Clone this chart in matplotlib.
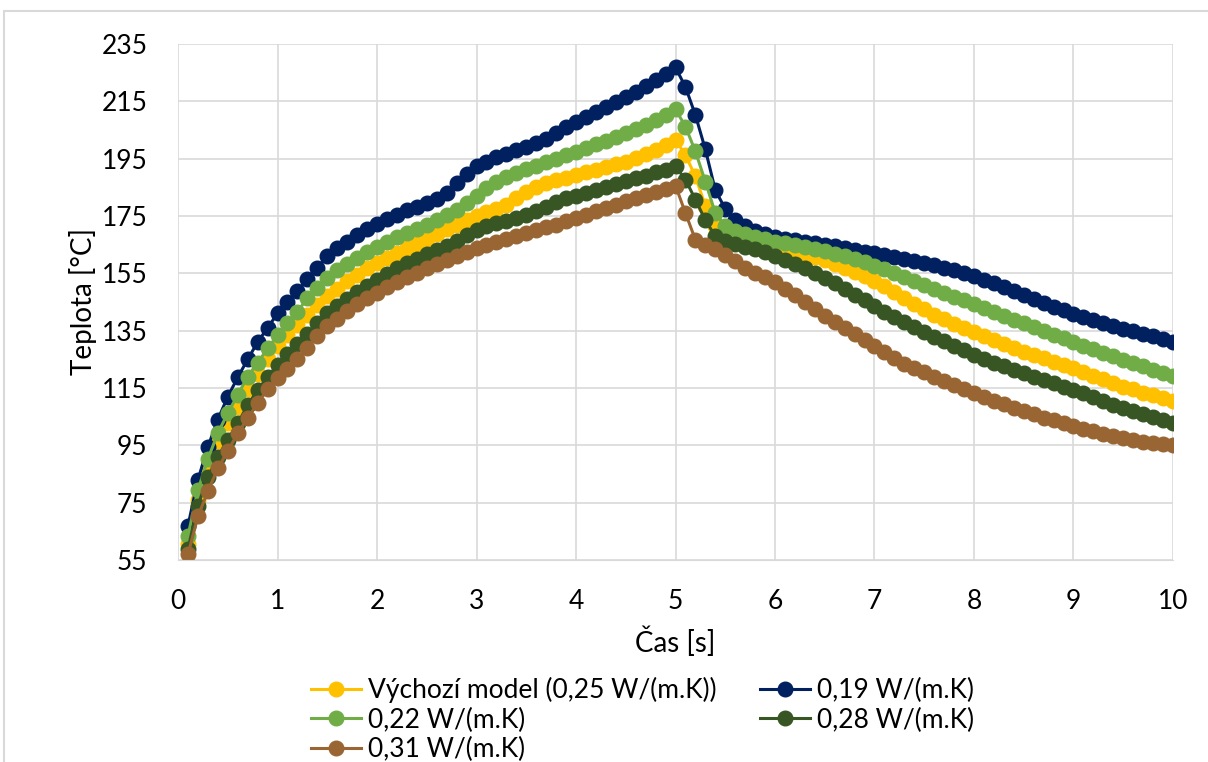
import matplotlib.pyplot as plt
import matplotlib.patches as patches
import numpy as np

# Time axis: 0.1 s steps
cas = np.round(np.arange(1, 101) * 0.1, 1)

# Temperature [°C] for each thermal conductivity
t_025 = [60.5, 76, 87.5, 96.5, 102.7, 108.5, 114.5, 119.8, 125, 129.5,
         133.5, 137, 140.5, 143.8, 147, 149.7, 152.2, 154.5, 156.7, 158.7,
         160.5, 162.2, 163.8, 165.3, 166.8, 168.6, 170.3, 172, 173.6, 175,
         176.3, 177.5, 179, 181.2, 183.5, 185.2, 186.4, 187.5, 188.4, 189.3,
         190.2, 191.1, 192, 193, 194, 195.2, 196.5, 198, 199.7, 201.6,
         196.2, 188.8, 178.5, 171.4, 169, 167.8, 167, 166.3, 165.5, 164.6,
         163.6, 162.6, 161.6, 160.6, 159.6, 158.3, 156.9, 155.5, 154, 152.4,
         150.6, 148.6, 146.5, 144.4, 142.4, 140.6, 138.9, 137.3, 135.9, 134.6,
         133.2, 131.8, 130.4, 129, 127.6, 126.5, 125.4, 124.2, 123.1, 121.9,
         120.6, 119.3, 118, 116.7, 115.5, 114.5, 113.4, 112.4, 111.4, 110.4]

t_019 = [67, 83, 94.5, 104, 112, 118.7, 125, 131, 136, 141,
         145, 148.8, 153, 157, 161, 163.7, 166, 168.2, 170.3, 172.3,
         174, 175.5, 177, 178.3, 179.5, 180.8, 183, 186.6, 189.5, 192.5,
         194, 195.4, 196.7, 198, 199.2, 200.5, 202, 204, 206, 207.8,
         209.5, 211.2, 213, 214.8, 216.6, 218.4, 220.3, 222.4, 224.6, 226.8,
         220, 210.2, 198.2, 184, 177.5, 173.7, 171.4, 169.7, 168.6, 167.6,
         167, 166.5, 166, 165.5, 165, 164.4, 163.8, 163.2, 162.6, 162,
         161.4, 160.8, 160.1, 159.4, 158.7, 157.9, 157, 156.1, 155.1, 154.1,
         152.8, 151.5, 150.1, 148.7, 147.3, 146, 144.7, 143.4, 142.1, 140.9,
         139.8, 138.7, 137.7, 136.7, 135.7, 134.8, 133.9, 133, 132.1, 131.2]

t_022 = [63.5, 79.4, 90.2, 99.3, 106.2, 112.6, 119, 123.8, 128.8, 133.4,
         137.7, 141.5, 146.5, 150, 153.4, 156, 158.3, 160.5, 162.5, 164.3,
         166, 167.7, 169.2, 170.6, 172, 173.6, 175.3, 177.2, 179.4, 182,
         184.6, 186.8, 188.6, 190, 191.3, 192.6, 193.8, 195, 196.2, 197.4,
         198.7, 200, 201.3, 202.6, 203.9, 205.3, 206.8, 208.5, 210.3, 212.2,
         206.2, 197.5, 187, 176, 171.5, 169.7, 168.6, 167.7, 166.8, 166,
         165.4, 164.8, 164.1, 163.4, 162.7, 161.9, 161, 160, 158.9, 157.7,
         156.5, 155.2, 153.8, 152.3, 150.8, 149.4, 148.1, 146.8, 145.6, 144.4,
         143, 141.6, 140.2, 138.8, 137.5, 136.2, 134.9, 133.6, 132.3, 131.1,
         129.8, 128.5, 127.2, 126, 124.8, 123.6, 122.5, 121.4, 120.3, 119.2]

t_028 = [59, 74, 84, 91, 97, 102.7, 109, 114.3, 118.9, 123,
         126.8, 130.4, 134, 137.6, 141, 143.6, 146.1, 148.5, 150.7, 152.8,
         154.8, 156.7, 158.5, 160.1, 161.6, 163.1, 164.6, 166.2, 168.2, 170.2,
         171.4, 172.4, 173.4, 174.4, 175.4, 176.6, 178.2, 180, 181.1, 182,
         183, 184, 185, 186, 187.1, 188.1, 189.1, 190.2, 191.2, 192.3,
         187.7, 180.7, 173.5, 168, 166.3, 165.2, 164.3, 163.4, 162.4, 161.2,
         159.8, 158.3, 156.8, 155.2, 153.5, 151.6, 149.6, 147.6, 145.6, 143.6,
         141.6, 139.7, 137.9, 136.2, 134.5, 132.9, 131.3, 129.8, 128.2, 126.6,
         125.2, 123.8, 122.5, 121.3, 120.2, 119, 117.8, 116.7, 115.5, 114.4,
         113.1, 111.8, 110.5, 109.2, 108, 107, 105.9, 104.8, 103.8, 102.8]

t_031 = [57, 70.2, 79, 87, 93, 99.2, 104.4, 109.7, 114.5, 118.4,
         121.6, 125, 129, 133, 136.5, 139.2, 141.8, 144.2, 146.3, 148.2,
         150.1, 151.9, 153.6, 155.2, 156.8, 158.3, 159.8, 161.2, 162.5, 163.7,
         164.8, 165.9, 167, 168, 169, 170, 171, 172, 173.1, 174.2,
         175.4, 176.6, 177.8, 179, 180.1, 181.2, 182.3, 183.4, 184.5, 185.6,
         176, 166.7, 165, 163.4, 161.4, 159.2, 156.8, 155.2, 153.6, 151.8,
         149.6, 147.4, 145, 142.6, 140.2, 138, 135.8, 133.8, 131.8, 129.8,
         127.6, 125.4, 123.4, 122, 120.6, 119, 117.4, 115.9, 114.5, 113.2,
         111.9, 110.6, 109.3, 108.1, 106.9, 105.8, 104.7, 103.7, 102.7, 101.7,
         100.8, 99.9, 99.1, 98.3, 97.6, 96.9, 96.3, 95.8, 95.4, 95]

labels = ['Výchozí model (0,25 W/(m.K))', '0,19 W/(m.K)', '0,22 W/(m.K)',
          '0,28 W/(m.K)', '0,31 W/(m.K)']
colors = ['#FFC000', '#002060', '#70AD47', '#375623', '#996633']
series = [t_025, t_019, t_022, t_028, t_031]

plt.rcParams['font.family'] = ['Lato', 'DejaVu Sans']

fig = plt.figure(figsize=(12.08, 7.62), dpi=100)
ax = fig.add_axes([0.1474, 0.2651, 0.8236, 0.6772])

# light frame around the whole chart
fig.patches.append(patches.Rectangle((4/1208, -0.1), 1.2, 1 - 11/762 + 0.1,
                                     transform=fig.transFigure, fill=False,
                                     edgecolor='#d9d9d9', lw=1.5))

lines = []
for y, c, lab in zip(series, colors, labels):
    l, = ax.plot(cas, y, color=c, lw=2.2, marker='o', ms=10.5, label=lab)
    lines.append(l)

ax.set_xlim(0, 10)
ax.set_ylim(55, 235)
ax.set_xticks(range(0, 11))
ax.set_yticks(range(55, 236, 20))
ax.grid(True, color='#d9d9d9', lw=1.2)
ax.set_axisbelow(True)
for s in ax.spines.values():
    s.set_visible(False)
ax.spines['bottom'].set_visible(True)
ax.spines['bottom'].set_color('#d9d9d9')
ax.tick_params(length=0, labelsize=19, colors='#000000')
ax.tick_params(axis='y', pad=22)
ax.tick_params(axis='x', pad=21)

ax.set_xlabel('Čas [s]', fontsize=20, labelpad=9)
ax.set_ylabel('Teplota [°C]', fontsize=20, labelpad=3)

# legend filled row by row: reorder handles for a 2-column layout
order = [0, 2, 4, 1, 3]
fig.legend([lines[i] for i in order], [labels[i] for i in order],
           loc='upper left', bbox_to_anchor=(0.249, 0.125), ncol=2,
           frameon=False, fontsize=19, handlelength=1.9, handletextpad=0.25,
           columnspacing=1.65, labelspacing=0.16, borderaxespad=0)

plt.savefig('out.png', dpi=100)
plt.close()
